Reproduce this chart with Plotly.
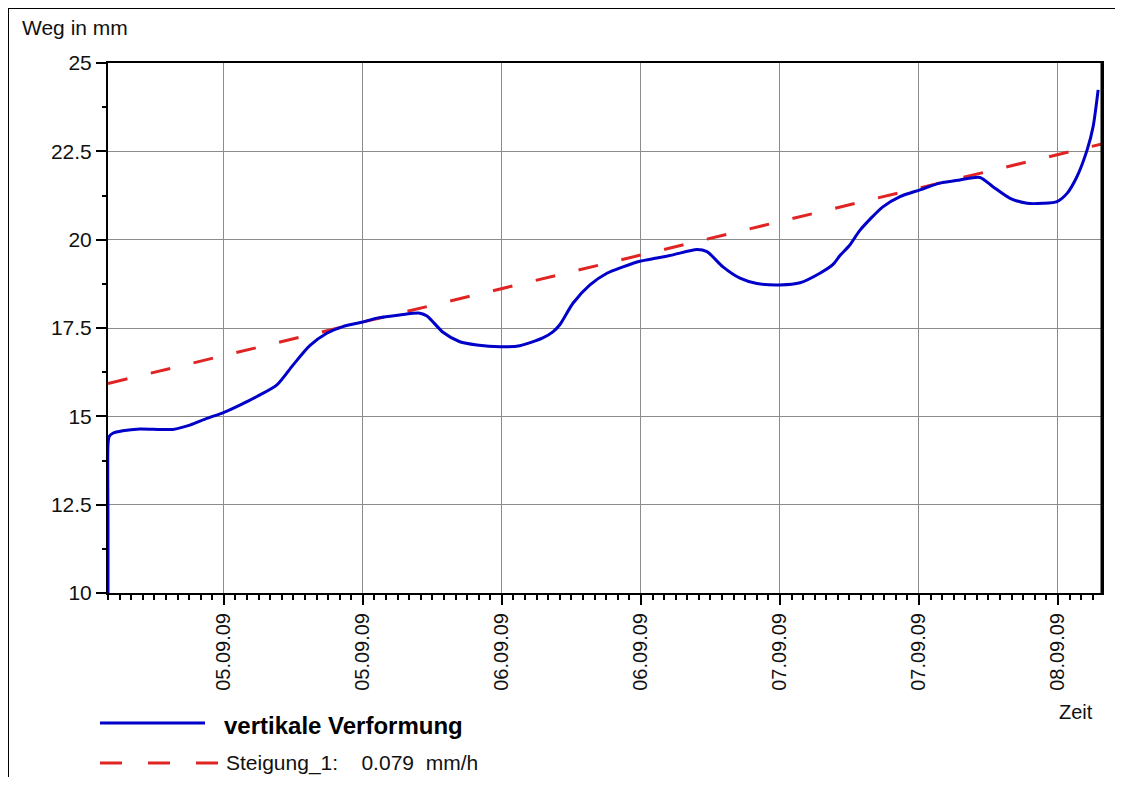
import plotly.graph_objects as go

# ---- data ----
times = [
    "2009-09-04 14:00", "2009-09-04 14:00", "2009-09-04 14:00", "2009-09-04 14:06",
    "2009-09-04 14:25", "2009-09-04 15:17",
    "2009-09-04 16:45", "2009-09-04 19:36", "2009-09-04 21:04", "2009-09-04 22:32",
    "2009-09-04 23:55", "2009-09-05 01:23", "2009-09-05 02:51", "2009-09-05 04:35",
    "2009-09-05 05:58", "2009-09-05 07:25", "2009-09-05 08:53", "2009-09-05 10:16",
    "2009-09-05 12:00", "2009-09-05 13:13", "2009-09-05 15:11", "2009-09-05 16:55",
    "2009-09-05 17:32", "2009-09-05 18:55", "2009-09-05 20:22", "2009-09-05 21:50",
    "2009-09-05 23:50", "2009-09-06 01:33", "2009-09-06 03:32", "2009-09-06 04:24",
    "2009-09-06 05:01", "2009-09-06 06:08", "2009-09-06 07:36", "2009-09-06 09:04",
    "2009-09-06 10:27", "2009-09-06 11:55", "2009-09-06 13:23", "2009-09-06 14:46",
    "2009-09-06 16:50", "2009-09-06 17:42", "2009-09-06 19:05", "2009-09-06 20:33",
    "2009-09-06 22:01", "2009-09-07 00:00", "2009-09-07 01:44", "2009-09-07 03:27",
    "2009-09-07 04:35", "2009-09-07 05:11", "2009-09-07 06:02", "2009-09-07 06:55",
    "2009-09-07 08:53", "2009-09-07 10:22", "2009-09-07 12:05", "2009-09-07 13:49",
    "2009-09-07 15:32", "2009-09-07 17:16", "2009-09-07 18:23", "2009-09-07 19:52",
    "2009-09-07 21:20", "2009-09-07 22:43", "2009-09-07 23:55", "2009-09-08 00:47",
    "2009-09-08 01:38", "2009-09-08 02:31", "2009-09-08 03:02", "2009-09-08 03:28",
]
weg = [
    10.0, 12.0, 14.2, 14.43,
    14.52, 14.59,
    14.64, 14.63, 14.75, 14.94,
    15.10, 15.32, 15.56, 15.89,
    16.45, 17.0, 17.35, 17.54,
    17.67, 17.78, 17.87, 17.92,
    17.84, 17.38, 17.11, 17.02,
    16.97, 17.0, 17.22, 17.39,
    17.6, 18.2, 18.72, 19.05,
    19.23, 19.39, 19.48, 19.57,
    19.72, 19.66, 19.23, 18.91,
    18.76, 18.72, 18.78, 19.05,
    19.3, 19.55, 19.85, 20.27,
    20.93, 21.22, 21.41, 21.60,
    21.69, 21.76, 21.50, 21.17,
    21.03, 21.03, 21.08, 21.31,
    21.78, 22.54, 23.2, 24.24,
]
trend_times = ["2009-09-04 14:00", "2009-09-08 03:48"]
trend_vals = [15.93, 22.71]
x_range = ["2009-09-04 14:00", "2009-09-08 03:48"]
y_range = [10, 25]

name_main = "vertikale Verformung"
name_trend = "Steigung_1:\u00a0\u00a0\u00a0\u00a00.079\u00a0\u00a0mm/h"

BLUE = "#0000C8"
RED = "#E02424"
FONT = "Arial, Liberation Sans, sans-serif"

# page offset (browser body margin) and plot area in page pixels
OFF = 8
L, R, T, B = 108, 1102, 63, 593
W, H = 1115, 769


def px(x):
    return (x - L) / (R - L)


def py(y):
    return (B - y) / (B - T)


fig = go.Figure()
fig.add_trace(go.Scatter(x=trend_times, y=trend_vals, mode="lines",
                         line=dict(color=RED, width=3, dash="20px,24px"),
                         name=name_trend, showlegend=False))
fig.add_trace(go.Scatter(x=times, y=weg, mode="lines",
                         line=dict(color=BLUE, width=3, shape="spline", smoothing=0.7),
                         name=name_main, showlegend=False))

fig.update_layout(
    width=W, height=H,
    margin=dict(l=L - OFF, r=W - (R - OFF), t=T - OFF, b=H - (B - OFF), pad=0),
    paper_bgcolor="white", plot_bgcolor="white",
    font=dict(family=FONT, size=20, color="#111111"),
    showlegend=False,
)
fig.update_xaxes(
    type="date", range=x_range,
    tick0="2009-09-05 00:00", dtick=43200000, tickformat="%d.%m.%y",
    tickangle=-90, ticks="outside", ticklen=10, tickwidth=2, tickcolor="black",
    showgrid=True, gridcolor="#8c8c8c", gridwidth=1,
    showline=True, linecolor="black", linewidth=2, mirror=True,
    minor=dict(dtick=3600000, tick0="2009-09-05 00:00", ticks="outside", ticklen=5,
               tickwidth=2, tickcolor="black", showgrid=False),
    tickfont=dict(size=20, family=FONT),
    ticklabelstandoff=0,
    zeroline=False,
)
fig.update_yaxes(
    range=y_range, dtick=2.5, tick0=0,
    ticks="outside", ticklen=10, tickwidth=2, tickcolor="black",
    showgrid=True, gridcolor="#8c8c8c", gridwidth=1,
    showline=True, linecolor="black", linewidth=2, mirror=True,
    minor=dict(dtick=1.25, ticks="outside", ticklen=4, tickwidth=2,
               tickcolor="black", showgrid=False),
    tickfont=dict(size=21, family=FONT),
    zeroline=False,
)

shapes = [
    # outer frame (top and left)
    dict(type="line", xref="paper", yref="paper", x0=px(OFF), x1=px(1123), y0=py(OFF), y1=py(OFF),
         line=dict(color="black", width=2)),
    dict(type="line", xref="paper", yref="paper", x0=px(OFF), x1=px(OFF), y0=py(OFF), y1=py(785),
         line=dict(color="black", width=2)),
    # thicker right frame of plot
    dict(type="line", xref="paper", yref="paper", x0=1, x1=1, y0=0, y1=1,
         line=dict(color="black", width=3)),
    # legend samples
    dict(type="line", xref="paper", yref="paper", x0=px(100), x1=px(205), y0=py(723), y1=py(723),
         line=dict(color=BLUE, width=3)),
    dict(type="line", xref="paper", yref="paper", x0=px(100), x1=px(218), y0=py(763), y1=py(763),
         line=dict(color=RED, width=3, dash="22px,26px")),
]
annotations = [
    dict(text="Weg in mm", xref="paper", yref="paper", x=px(20), y=py(27),
         xanchor="left", yanchor="middle", showarrow=False, font=dict(size=21, family=FONT)),
    dict(text="Zeit", xref="paper", yref="paper", x=px(1076), y=py(712),
         xanchor="center", yanchor="middle", showarrow=False, font=dict(size=20, family=FONT)),
    dict(text="<b>" + name_main + "</b>", xref="paper", yref="paper", x=px(222), y=py(725),
         xanchor="left", yanchor="middle", showarrow=False,
         font=dict(size=24, family=FONT, color="black")),
    dict(text=name_trend, xref="paper", yref="paper", x=px(224), y=py(763),
         xanchor="left", yanchor="middle", showarrow=False, font=dict(size=21, family=FONT)),
]
fig.update_layout(shapes=shapes, annotations=annotations)

fig.write_html("out.html")
